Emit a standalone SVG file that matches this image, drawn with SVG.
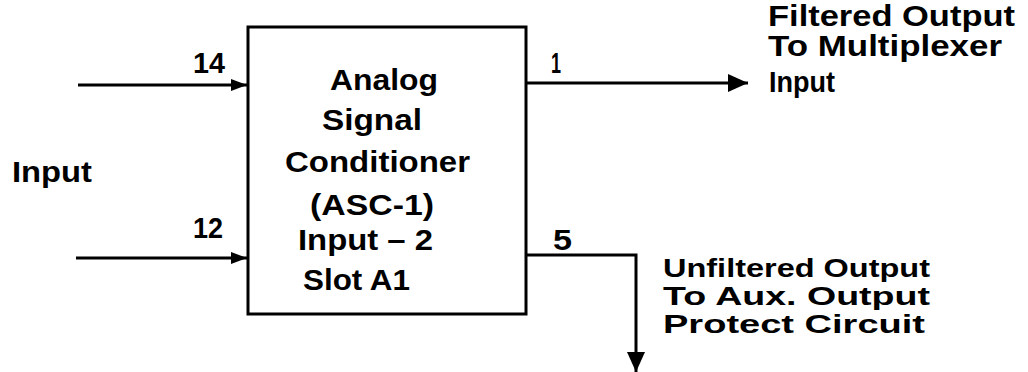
<svg xmlns="http://www.w3.org/2000/svg" width="1028" height="372" viewBox="0 0 1028 372">
<defs>
<style>
.t{font-family:"Liberation Sans",Arial,sans-serif;font-weight:bold;font-size:29px;fill:#000}
.s{font-size:25px}
.ln{stroke:#000;stroke-width:3;fill:none}
</style>
<marker id="ah" viewBox="0 0 20 18" refX="20" refY="9" markerWidth="20" markerHeight="18" markerUnits="userSpaceOnUse" orient="auto">
<path d="M0,0 L20,9 L0,18 Z" fill="#000"/>
</marker>
<marker id="as" viewBox="0 0 16 12" refX="16" refY="6" markerWidth="16" markerHeight="12" markerUnits="userSpaceOnUse" orient="auto">
<path d="M0,0 L16,6 L0,12 Z" fill="#000"/>
</marker>
</defs>
<rect width="1028" height="372" fill="#fff"/>
<g id="asc1">
<rect x="248" y="27" width="278" height="287" class="ln"/>
<text class="t" x="330" y="90" textLength="108" lengthAdjust="spacingAndGlyphs">Analog</text>
<text class="t" x="322" y="130" textLength="100" lengthAdjust="spacingAndGlyphs">Signal</text>
<text class="t" x="285" y="172" textLength="185" lengthAdjust="spacingAndGlyphs">Conditioner</text>
<text class="t" x="310" y="215" textLength="124" lengthAdjust="spacingAndGlyphs">(ASC-1)</text>
<text class="t" x="298" y="250" textLength="135" lengthAdjust="spacingAndGlyphs">Input – 2</text>
<text class="t" x="303" y="290" textLength="107" lengthAdjust="spacingAndGlyphs">Slot A1</text>
</g>
<g id="input-label">
<text class="t" x="12" y="182" textLength="80" lengthAdjust="spacingAndGlyphs">Input</text>
</g>
<g id="filtered-label">
<text class="t" x="768" y="26" textLength="247" lengthAdjust="spacingAndGlyphs">Filtered Output</text>
<text class="t" x="768" y="56" textLength="234" lengthAdjust="spacingAndGlyphs">To Multiplexer</text>
<text class="t" x="769" y="92" textLength="66" lengthAdjust="spacingAndGlyphs">Input</text>
</g>
<g id="unfiltered-label">
<text class="t s" x="663" y="277" textLength="267" lengthAdjust="spacingAndGlyphs">Unfiltered Output</text>
<text class="t s" x="663" y="305" textLength="267" lengthAdjust="spacingAndGlyphs">To Aux. Output</text>
<text class="t s" x="663" y="333" textLength="262" lengthAdjust="spacingAndGlyphs">Protect Circuit</text>
</g>
<g id="connectors">
<line x1="78" y1="85" x2="247" y2="85" class="ln" marker-end="url(#as)"/>
<line x1="76" y1="258" x2="247" y2="258" class="ln" marker-end="url(#as)"/>
<line x1="526" y1="83" x2="748" y2="83" class="ln" marker-end="url(#ah)"/>
<polyline points="526,255 636,255 636,372" class="ln" marker-end="url(#ah)"/>
<text class="t" x="193" y="73" textLength="32" lengthAdjust="spacingAndGlyphs">14</text>
<text class="t" x="193" y="238" textLength="30" lengthAdjust="spacingAndGlyphs">12</text>
<text class="t" x="551" y="73" textLength="10" lengthAdjust="spacingAndGlyphs">1</text>
<text class="t" x="553" y="250" textLength="19" lengthAdjust="spacingAndGlyphs">5</text>
</g>
</svg>
